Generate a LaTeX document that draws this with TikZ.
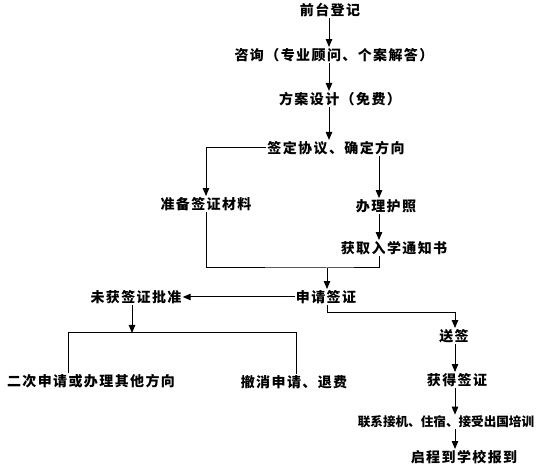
\documentclass[tikz,border=0pt]{standalone}
\usepackage{fontspec}
\usetikzlibrary{arrows.meta,calc,positioning}
\newfontfamily\cjk[LetterSpace=10]{Noto Sans CJK SC}
\newfontfamily\cjktight[LetterSpace=0]{Noto Sans CJK SC}

\begin{document}
\begin{tikzpicture}[x=1pt,y=-1pt,
    stage/.style={font=\fontsize{14}{16}\selectfont\cjk\bfseries,inner sep=1pt},
    stagetight/.style={font=\fontsize{12.6}{14}\selectfont\cjktight\bfseries,inner sep=1pt},
    arr/.style={-{Triangle[length=8pt,width=6.5pt]},line width=1pt},
    link/.style={line width=1pt}]
  \useasboundingbox (0,0) rectangle (550,473);
  % stages
  \node[stage] (reg) at (330,10) {前台登记};
  \node[stage] (consult) at (334,55) {咨询（专业顾问、个案解答）};
  \node[stage] (plan) at (340,99) {方案设计（免费）};
  \node[stage] (agree) at (336,148) {签定协议、确定方向};
  \node[stage] (prep) at (206,204) {准备签证材料};
  \node[stage] (passport) at (386,206) {办理护照};
  \node[stage] (offer) at (394,248) {获取入学通知书};
  \node[stage] (apply) at (326,297) {申请签证};
  \node[stage] (deny) at (136,297) {未获签证批准};
  \node[stage] (retry) at (91,381) {二次申请或办理其他方向};
  \node[stage] (cancel) at (294,382) {撤消申请、退费};
  \node[stage] (submit) at (454,336) {送签};
  \node[stage] (granted) at (457,380) {获得签证};
  \node[stagetight] (arrange) at (446,422) {联系接机、住宿、接受出国培训};
  \node[stage] (depart) at (464,457) {启程到学校报到};
  % columns and joints
  \coordinate (mcol) at (329,0);
  \coordinate (rcol) at (379,0);
  \coordinate (scol) at (455,0);
  \coordinate (merge) at (327,268);
  \coordinate (split) at (327,313);
  \coordinate (bar) at (132,333);
  \coordinate (lbar) at (68,333);
  \coordinate (rbar) at (296,333);
  % main line
  \draw[arr] (reg.south -| mcol) -- (consult.north -| mcol);
  \draw[arr] (consult.south -| mcol) -- (plan.north -| mcol);
  \draw[arr] (plan.south -| mcol) -- (agree.north -| mcol);
  \draw[arr] (agree.west) -| (prep.north);
  \draw[arr] (agree.south -| rcol) -- (passport.north -| rcol);
  \draw[arr] (passport.south -| rcol) -- (offer.north -| rcol);
  \draw[link] (prep.south) |- (merge) -| (offer.south -| rcol);
  \draw[arr] (merge) -- (apply.north -| merge);
  % refused
  \draw[arr] (apply.west) -- (deny.east);
  \draw[arr] (deny.south -| bar) -- (bar);
  \draw[link] (retry.north -| lbar) -- (lbar) -- (rbar) -- (cancel.north -| rbar);
  % granted
  \draw[arr] (apply.south -| split) -- (split) -| (submit.north -| scol);
  \draw[arr] (submit.south -| scol) -- (granted.north -| scol);
  \draw[arr] (granted.south -| scol) -- (arrange.north -| scol);
  \draw[arr] (arrange.south -| scol) -- (depart.north -| scol);
\end{tikzpicture}
\end{document}
